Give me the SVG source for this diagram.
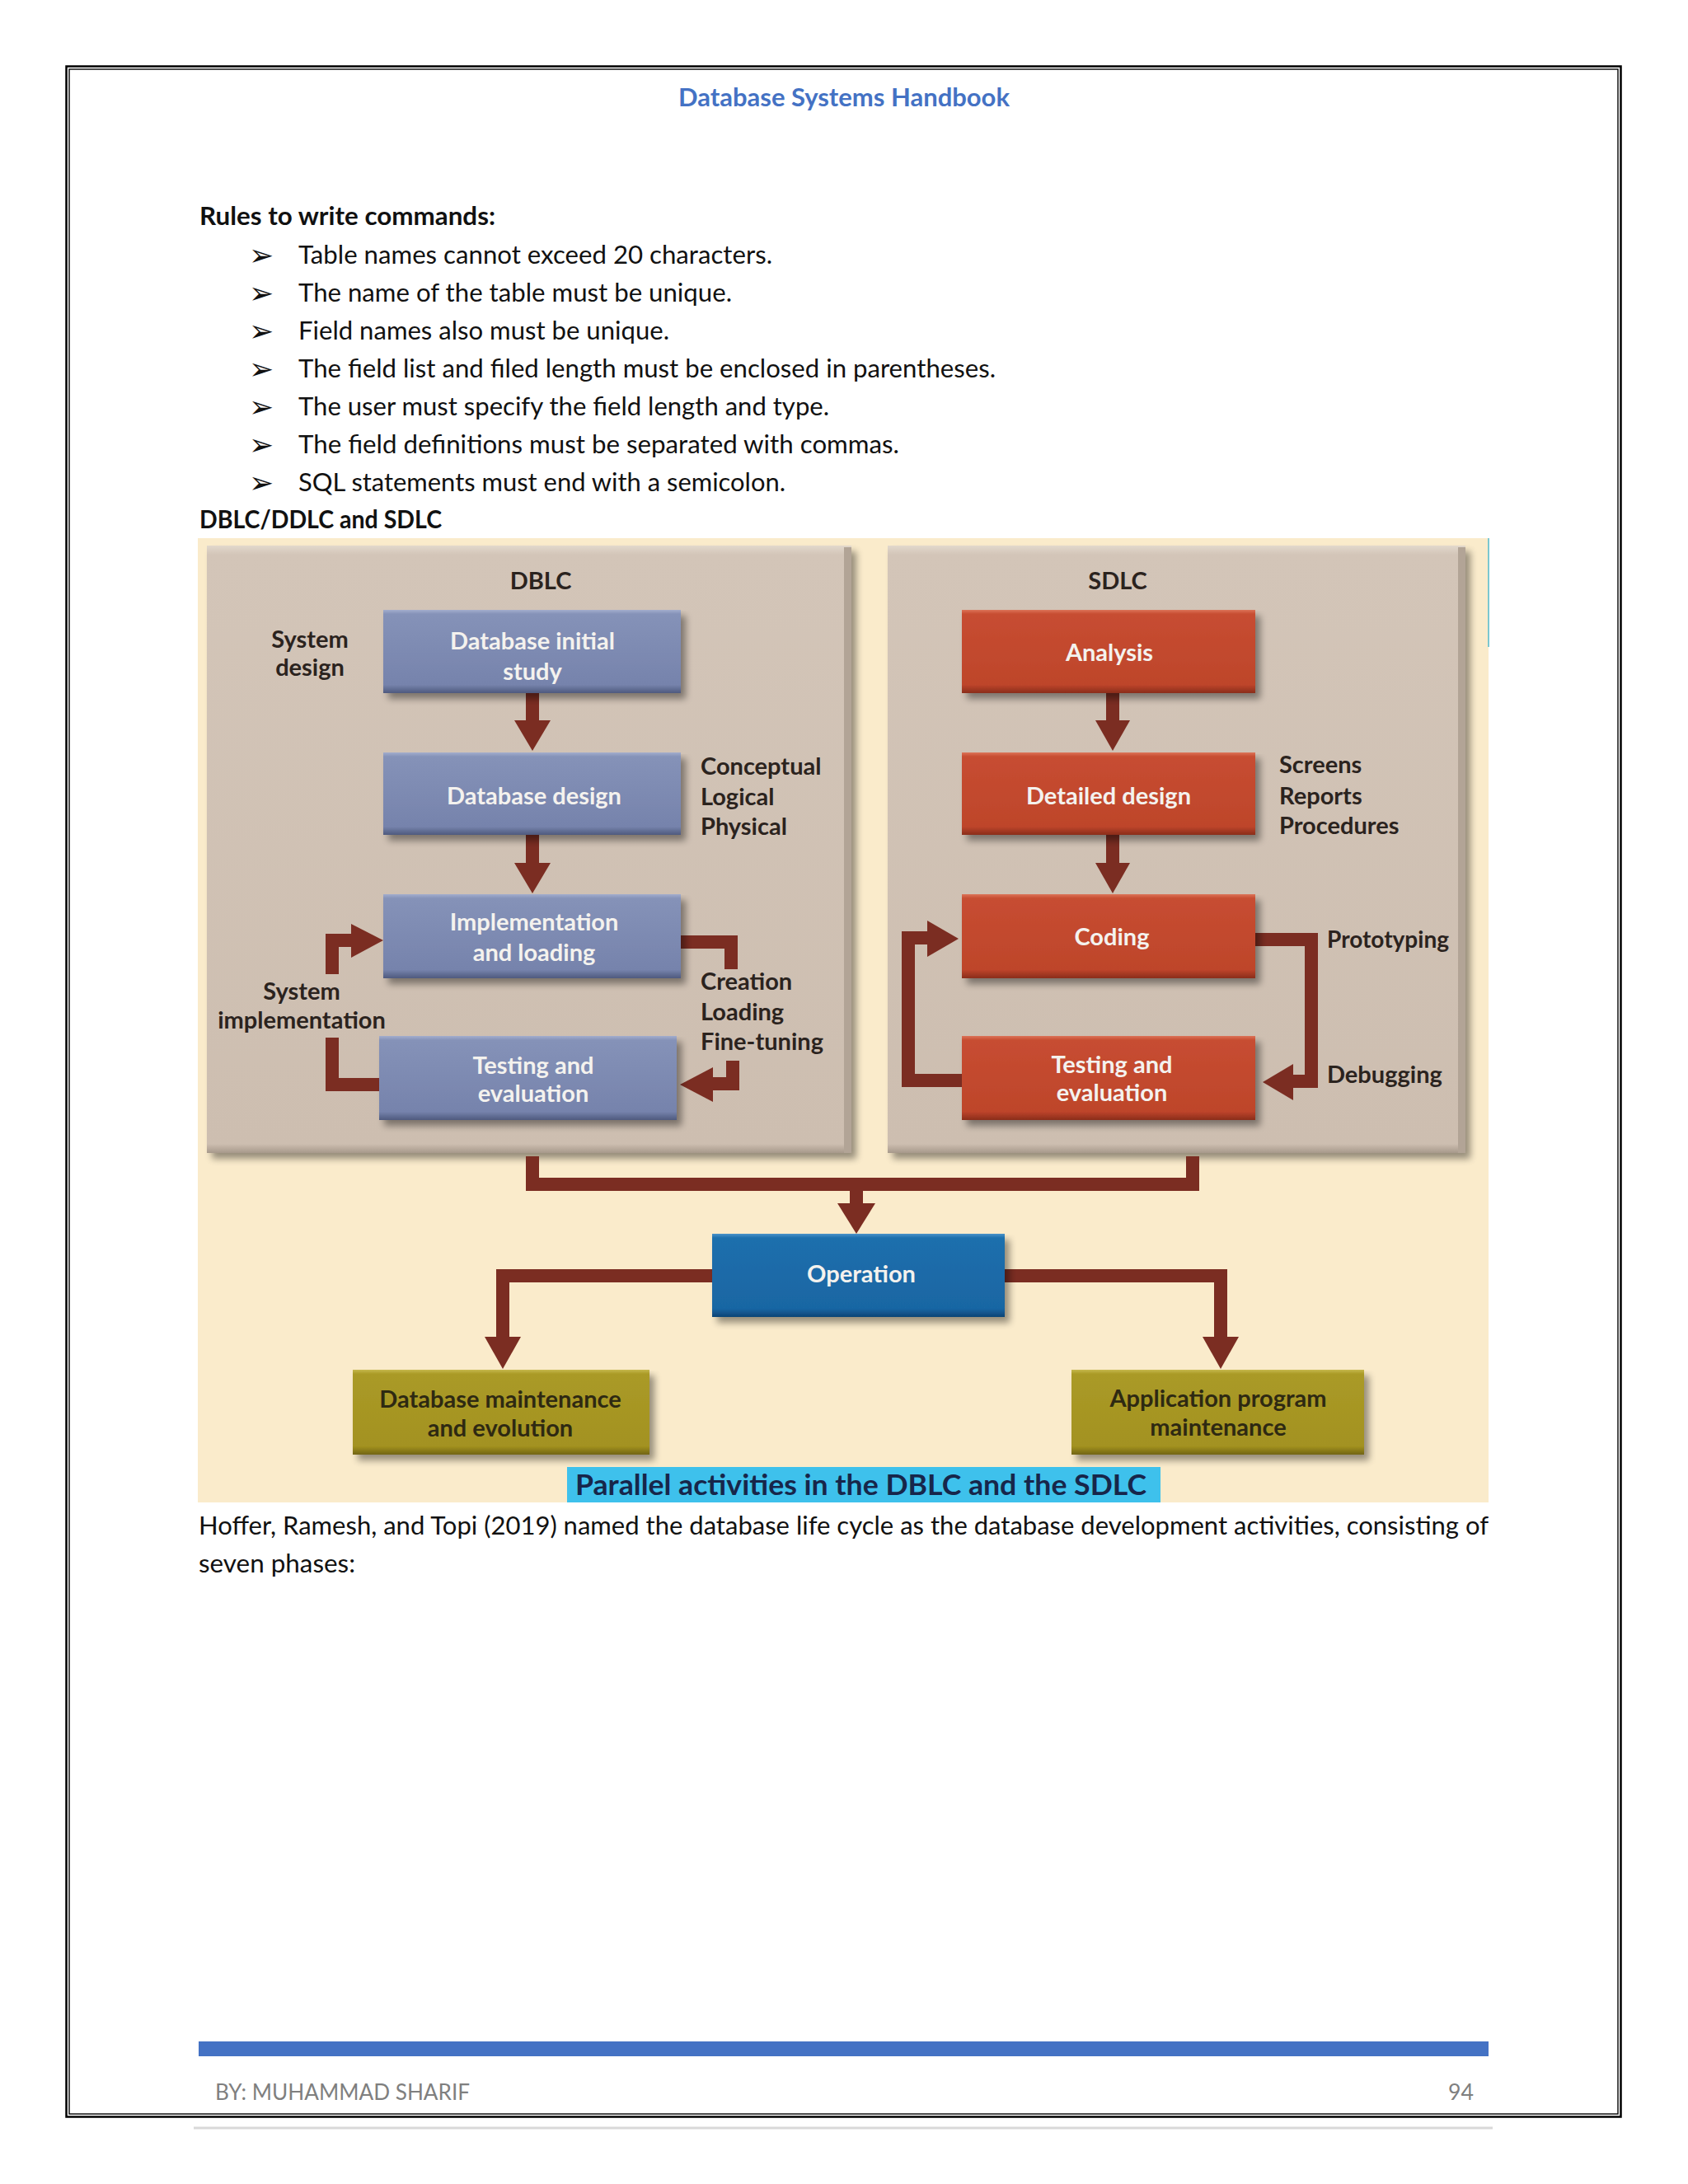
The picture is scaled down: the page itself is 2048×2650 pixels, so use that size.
<svg xmlns="http://www.w3.org/2000/svg" width="2048" height="2650" viewBox="0 0 2048 2650">
<defs>
<style>
.body{font-family:Lato,"Open Sans","Liberation Sans",sans-serif;font-size:30px;fill:#111;}
.bold{font-weight:700;}
.hdr{font-family:Lato,"Open Sans","Liberation Sans",sans-serif;font-size:31px;font-weight:700;fill:#4472C4;}
.foot{font-family:Lato,"Open Sans","Liberation Sans",sans-serif;font-size:27px;fill:#7f7f7f;}
.bul{font-family:"DejaVu Sans",sans-serif;font-size:36px;fill:#111;}
.dg{font-family:Lato,"Open Sans","Liberation Sans",sans-serif;font-weight:700;font-size:29px;}
.lbl{fill:#2b231e;}
.wt{fill:#F4F2EE;text-anchor:middle;}
.dk{fill:#2e2912;text-anchor:middle;}
.ttl{fill:#2b231e;text-anchor:middle;}
.conn{fill:none;stroke:#7B2D22;stroke-width:16;stroke-linejoin:miter;stroke-linecap:butt;}
.head{fill:#7B2D22;}
</style>
<linearGradient id="gBlue" x1="0" y1="0" x2="0" y2="1">
<stop offset="0" stop-color="#A3AECD"/><stop offset="0.05" stop-color="#8592B8"/><stop offset="0.9" stop-color="#7683AC"/><stop offset="1" stop-color="#4F5A7E"/>
</linearGradient>
<linearGradient id="gRed" x1="0" y1="0" x2="0" y2="1">
<stop offset="0" stop-color="#DC7358"/><stop offset="0.05" stop-color="#C74D31"/><stop offset="0.9" stop-color="#BE452B"/><stop offset="1" stop-color="#8A2C1A"/>
</linearGradient>
<linearGradient id="gOp" x1="0" y1="0" x2="0" y2="1">
<stop offset="0" stop-color="#4A93C9"/><stop offset="0.05" stop-color="#1E6FAD"/><stop offset="0.9" stop-color="#1966A3"/><stop offset="1" stop-color="#0E4475"/>
</linearGradient>
<linearGradient id="gOl" x1="0" y1="0" x2="0" y2="1">
<stop offset="0" stop-color="#C6B84C"/><stop offset="0.05" stop-color="#AA9A27"/><stop offset="0.9" stop-color="#A39220"/><stop offset="1" stop-color="#726512"/>
</linearGradient>
<linearGradient id="gPanel" x1="0" y1="0" x2="0" y2="1">
<stop offset="0" stop-color="#E2D8CC"/><stop offset="0.015" stop-color="#D3C5B8"/><stop offset="0.985" stop-color="#CDBEB0"/><stop offset="1" stop-color="#A7998B"/>
</linearGradient>
<filter id="sh" x="-5%" y="-5%" width="115%" height="125%">
<feGaussianBlur in="SourceAlpha" stdDeviation="4"/>
<feOffset dx="6" dy="7"/>
<feComponentTransfer><feFuncA type="linear" slope="0.4"/></feComponentTransfer>
<feMerge><feMergeNode/><feMergeNode in="SourceGraphic"/></feMerge>
</filter>
</defs>

<rect x="0" y="0" width="2048" height="2650" fill="#ffffff"/>

<!-- page border -->
<g id="page-border">
<rect x="80.5" y="80.5" width="1886" height="2488" fill="none" stroke="#000" stroke-width="2.5"/>
<rect x="84" y="84" width="1879" height="2481" fill="none" stroke="#000" stroke-width="1.4"/>
</g>

<!-- header & body text -->
<g id="page-text">
<text class="hdr" x="823" y="129" textLength="402" lengthAdjust="spacingAndGlyphs">Database Systems Handbook</text>
<text class="body bold" x="242" y="273" textLength="359" lengthAdjust="spacingAndGlyphs">Rules to write commands:</text>
<text class="bul" x="302" y="322">➢</text>
<text class="body" x="362" y="320" textLength="575" lengthAdjust="spacingAndGlyphs">Table names cannot exceed 20 characters.</text>
<text class="bul" x="302" y="368">➢</text>
<text class="body" x="362" y="366" textLength="526" lengthAdjust="spacingAndGlyphs">The name of the table must be unique.</text>
<text class="bul" x="302" y="414">➢</text>
<text class="body" x="362" y="412" textLength="450" lengthAdjust="spacingAndGlyphs">Field names also must be unique.</text>
<text class="bul" x="302" y="460">➢</text>
<text class="body" x="362" y="458" textLength="846" lengthAdjust="spacingAndGlyphs">The field list and filed length must be enclosed in parentheses.</text>
<text class="bul" x="302" y="506">➢</text>
<text class="body" x="362" y="504" textLength="644" lengthAdjust="spacingAndGlyphs">The user must specify the field length and type.</text>
<text class="bul" x="302" y="552">➢</text>
<text class="body" x="362" y="550" textLength="729" lengthAdjust="spacingAndGlyphs">The field definitions must be separated with commas.</text>
<text class="bul" x="302" y="598">➢</text>
<text class="body" x="362" y="596" textLength="591" lengthAdjust="spacingAndGlyphs">SQL statements must end with a semicolon.</text>
<text class="body bold" x="242" y="641" textLength="294" lengthAdjust="spacingAndGlyphs">DBLC/DDLC and SDLC</text>
<text class="body" x="241" y="1862" textLength="1565" lengthAdjust="spacingAndGlyphs">Hoffer, Ramesh, and Topi (2019) named the database life cycle as the database development activities, consisting of</text>
<text class="body" x="241" y="1908" textLength="190" lengthAdjust="spacingAndGlyphs">seven phases:</text>
</g>

<!-- figure background -->
<g id="figure-bg">
<rect x="240" y="653" width="1566" height="1170" fill="#FAEBCB"/>
<line x1="1806" y1="653" x2="1806" y2="785" stroke="#7CC7D0" stroke-width="2"/>
</g>

<!-- panels -->
<g id="panel-dblc">
<rect x="251" y="662" width="782" height="737" fill="url(#gPanel)" filter="url(#sh)"/>
<rect x="1024" y="664" width="9" height="735" fill="#B2A496"/>
<text class="dg ttl" x="656" y="715">DBLC</text>
</g>
<g id="panel-sdlc">
<rect x="1077" y="662" width="701" height="737" fill="url(#gPanel)" filter="url(#sh)"/>
<rect x="1769" y="664" width="9" height="735" fill="#B2A496"/>
<text class="dg ttl" x="1356" y="715">SDLC</text>
</g>

<!-- side labels -->
<g id="labels" class="dg lbl">
<text x="376" y="786" text-anchor="middle">System</text>
<text x="376" y="820" text-anchor="middle">design</text>
<text x="850" y="940">Conceptual</text>
<text x="850" y="977">Logical</text>
<text x="850" y="1013">Physical</text>
<text x="366" y="1213" text-anchor="middle">System</text>
<text x="366" y="1248" text-anchor="middle">implementation</text>
<text x="850" y="1201">Creation</text>
<text x="850" y="1238">Loading</text>
<text x="850" y="1274">Fine-tuning</text>
<text x="1552" y="938">Screens</text>
<text x="1552" y="976">Reports</text>
<text x="1552" y="1012">Procedures</text>
<text x="1610" y="1150" textLength="148" lengthAdjust="spacingAndGlyphs">Prototyping</text>
<text x="1610" y="1314">Debugging</text>
</g>

<!-- connectors -->
<g id="connectors">
<line class="conn" x1="646" y1="841" x2="646" y2="878"/>
<polygon class="head" points="624,874 668,874 646,911"/>
<line class="conn" x1="646" y1="1013" x2="646" y2="1051"/>
<polygon class="head" points="624,1047 668,1047 646,1084"/>
<path class="conn" d="M460,1316 H403 V1259"/>
<path class="conn" d="M403,1182 V1141 H430"/>
<polygon class="head" points="426,1121 465,1141 426,1162"/>
<path class="conn" d="M826,1143 H887 V1176"/>
<path class="conn" d="M889,1287 V1315 H860"/>
<polygon class="head" points="865,1295 825,1316 865,1337"/>
<line class="conn" x1="1350" y1="841" x2="1350" y2="878"/>
<polygon class="head" points="1329,874 1371,874 1350,911"/>
<line class="conn" x1="1350" y1="1013" x2="1350" y2="1051"/>
<polygon class="head" points="1329,1047 1371,1047 1350,1084"/>
<path class="conn" d="M1523,1140 H1591 V1312 H1565"/>
<polygon class="head" points="1569,1291 1532,1313 1569,1335"/>
<path class="conn" d="M1167,1311 H1102 V1138 H1130"/>
<polygon class="head" points="1125,1117 1163,1139 1125,1161"/>
<path class="conn" d="M646,1403 V1437 H1447 V1403"/>
<line class="conn" x1="1039" y1="1437" x2="1039" y2="1464"/>
<polygon class="head" points="1016,1460 1062,1460 1039,1497"/>
<path class="conn" d="M864,1548 H610 V1627"/>
<polygon class="head" points="588,1622 632,1622 610,1661"/>
<path class="conn" d="M1219,1548 H1481 V1627"/>
<polygon class="head" points="1459,1622 1503,1622 1481,1661"/>
</g>

<!-- DBLC nodes -->
<g id="n-db-initial-study">
<rect x="465" y="740" width="361" height="101" fill="url(#gBlue)" filter="url(#sh)"/>
<text class="dg wt" x="646" y="788">Database initial</text>
<text class="dg wt" x="646" y="825">study</text>
</g>
<g id="n-db-design">
<rect x="465" y="913" width="361" height="100" fill="url(#gBlue)" filter="url(#sh)"/>
<text class="dg wt" x="648" y="976">Database design</text>
</g>
<g id="n-impl-loading">
<rect x="465" y="1085" width="361" height="102" fill="url(#gBlue)" filter="url(#sh)"/>
<text class="dg wt" x="648" y="1129">Implementation</text>
<text class="dg wt" x="648" y="1166">and loading</text>
</g>
<g id="n-db-testing">
<rect x="460" y="1257" width="361" height="102" fill="url(#gBlue)" filter="url(#sh)"/>
<text class="dg wt" x="647" y="1303">Testing and</text>
<text class="dg wt" x="647" y="1337">evaluation</text>
</g>

<!-- SDLC nodes -->
<g id="n-analysis">
<rect x="1167" y="740" width="356" height="101" fill="url(#gRed)" filter="url(#sh)"/>
<text class="dg wt" x="1346" y="802">Analysis</text>
</g>
<g id="n-detailed-design">
<rect x="1167" y="913" width="356" height="100" fill="url(#gRed)" filter="url(#sh)"/>
<text class="dg wt" x="1345" y="976">Detailed design</text>
</g>
<g id="n-coding">
<rect x="1167" y="1085" width="356" height="102" fill="url(#gRed)" filter="url(#sh)"/>
<text class="dg wt" x="1349" y="1147">Coding</text>
</g>
<g id="n-sd-testing">
<rect x="1167" y="1257" width="356" height="102" fill="url(#gRed)" filter="url(#sh)"/>
<text class="dg wt" x="1349" y="1302">Testing and</text>
<text class="dg wt" x="1349" y="1336">evaluation</text>
</g>

<!-- lower nodes -->
<g id="n-operation">
<rect x="864" y="1497" width="355" height="101" fill="url(#gOp)" filter="url(#sh)"/>
<text class="dg wt" x="1045" y="1556">Operation</text>
</g>
<g id="n-db-maintenance">
<rect x="428" y="1662" width="360" height="103" fill="url(#gOl)" filter="url(#sh)"/>
<text class="dg dk" x="607" y="1708">Database maintenance</text>
<text class="dg dk" x="607" y="1743">and evolution</text>
</g>
<g id="n-app-maintenance">
<rect x="1300" y="1662" width="355" height="103" fill="url(#gOl)" filter="url(#sh)"/>
<text class="dg dk" x="1478" y="1707">Application program</text>
<text class="dg dk" x="1478" y="1742">maintenance</text>
</g>

<!-- caption -->
<g id="caption">
<rect x="688" y="1780" width="720" height="43" fill="#3EC1EC"/>
<text x="698" y="1814" font-family="Lato,'Open Sans','Liberation Sans',sans-serif" font-size="34" font-weight="700" fill="#17264a" textLength="693" lengthAdjust="spacingAndGlyphs">Parallel activities in the DBLC and the SDLC</text>
</g>

<!-- footer -->
<g id="footer">
<rect x="241" y="2477" width="1565" height="18" fill="#4472C4"/>
<text class="foot" x="261" y="2548" textLength="309" lengthAdjust="spacingAndGlyphs">BY: MUHAMMAD SHARIF</text>
<text class="foot" x="1757" y="2548" textLength="31" lengthAdjust="spacingAndGlyphs">94</text>
<line x1="235" y1="2582" x2="1811" y2="2582" stroke="#d9d9d9" stroke-width="3"/>
</g>
</svg>
